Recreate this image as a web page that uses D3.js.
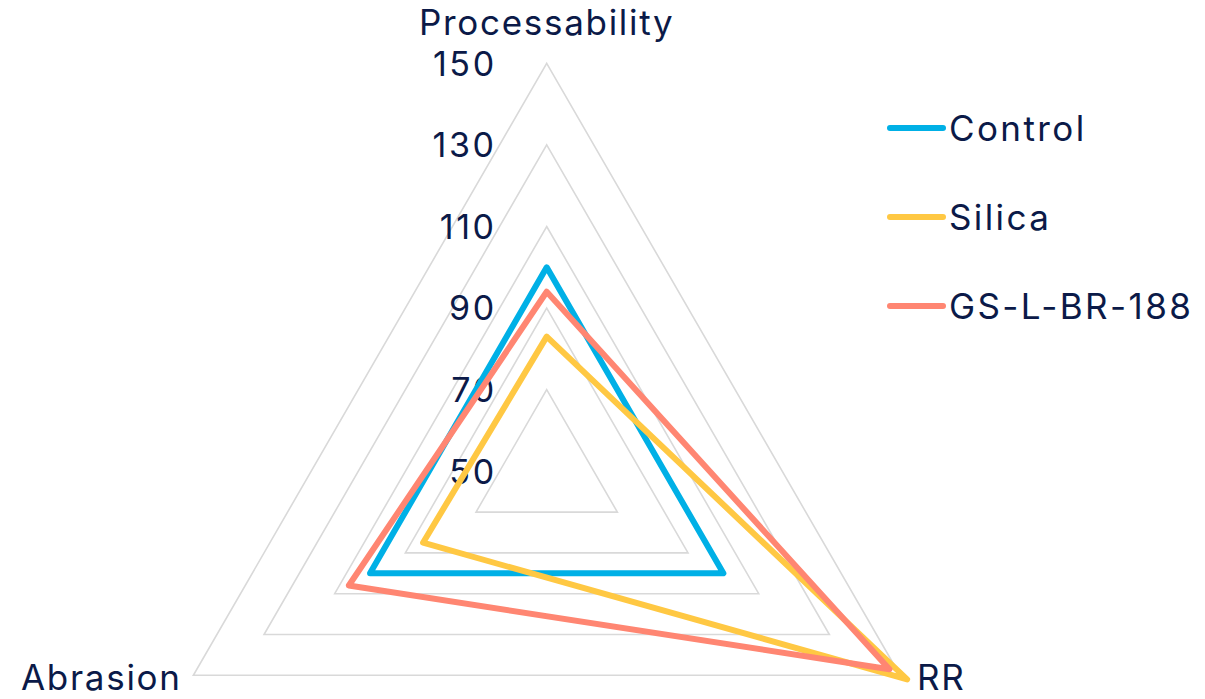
<!DOCTYPE html>
<html><head><meta charset="utf-8">
<script src="https://cdn.jsdelivr.net/npm/d3@7"></script>
<style>
html,body{margin:0;padding:0;background:#fff;}
svg{display:block;}
text{font-family:Inter,"Noto Sans",sans-serif;fill:#0b1a48;}
</style></head>
<body>
<svg id="chart" width="1205" height="699"></svg>
<script>
const axes = ["Processability", "RR", "Abrasion"];
const seriesNames = ["Control", "Silica", "GS-L-BR-188"];
const controlValues = [100, 100, 100];
const silicaValues = [83, 152, 85];
const gsValues = [94, 147, 106];
const tickValues = [50, 70, 90, 110, 130, 150];
const colors = ["#00b0e6", "#ffc843", "#ff8672"];

const svg = d3.select("#chart");
const cx = 546.7, cy = 471.3;
const r = d3.scaleLinear().domain([50, 150]).range([0, 408]);
const angle = d3.scalePoint().domain(axes).range([-Math.PI/2, -Math.PI/2 + 2*Math.PI*2/3]);
const ang = a => angle(a);
const pt = (a, v) => [cx + r(v)*Math.cos(ang(a)), cy + r(v)*Math.sin(ang(a))];

const g = svg.append("g");
const gridLevels = tickValues.filter(v => v > 50);
g.selectAll("path.grid").data(gridLevels).join("path")
  .attr("class","grid")
  .attr("d", v => d3.line()(axes.map(a => pt(a, v))) + "Z")
  .attr("fill","none").attr("stroke","#d9d9d9").attr("stroke-width",1.6);

g.selectAll("text.tick").data(tickValues).join("text")
  .attr("class","tick")
  .attr("x", cx - 50)
  .attr("y", v => cy - r(v))
  .attr("dy", "0.36em")
  .attr("text-anchor","end")
  .attr("font-size", 34)
  .attr("letter-spacing", "2.6px")
  .text(d => d);

const data = [controlValues, silicaValues, gsValues];
g.selectAll("path.series").data(data).join("path")
  .attr("class","series")
  .attr("d", vals => d3.line()(axes.map((a,i) => pt(a, vals[i]))) + "Z")
  .attr("fill","none")
  .attr("stroke", (d,i) => colors[i])
  .attr("stroke-width", 6)
  .attr("stroke-linejoin","round");

const lbl = (x, y, anchor, t) => svg.append("text").attr("x", x).attr("y", y)
  .attr("text-anchor", anchor).attr("font-size", 35).attr("letter-spacing","1.7px").text(t);
lbl(cx, 35, "middle", axes[0]);
lbl(917, 690, "start", axes[1]);
lbl(21, 690, "start", axes[2]);

const leg = svg.append("g").attr("transform","translate(888,128)");
const items = leg.selectAll("g").data(seriesNames).join("g")
  .attr("transform", (d,i) => `translate(0,${i*89})`);
items.append("line").attr("x1",2).attr("x2",55).attr("y1",0).attr("y2",0)
  .attr("stroke",(d,i)=>colors[i]).attr("stroke-width",6).attr("stroke-linecap","round");
items.append("text").attr("x",61).attr("y",0).attr("dy","0.36em").attr("font-size",35)
  .attr("letter-spacing","2.4px").text(d=>d);
</script>
</body></html>
